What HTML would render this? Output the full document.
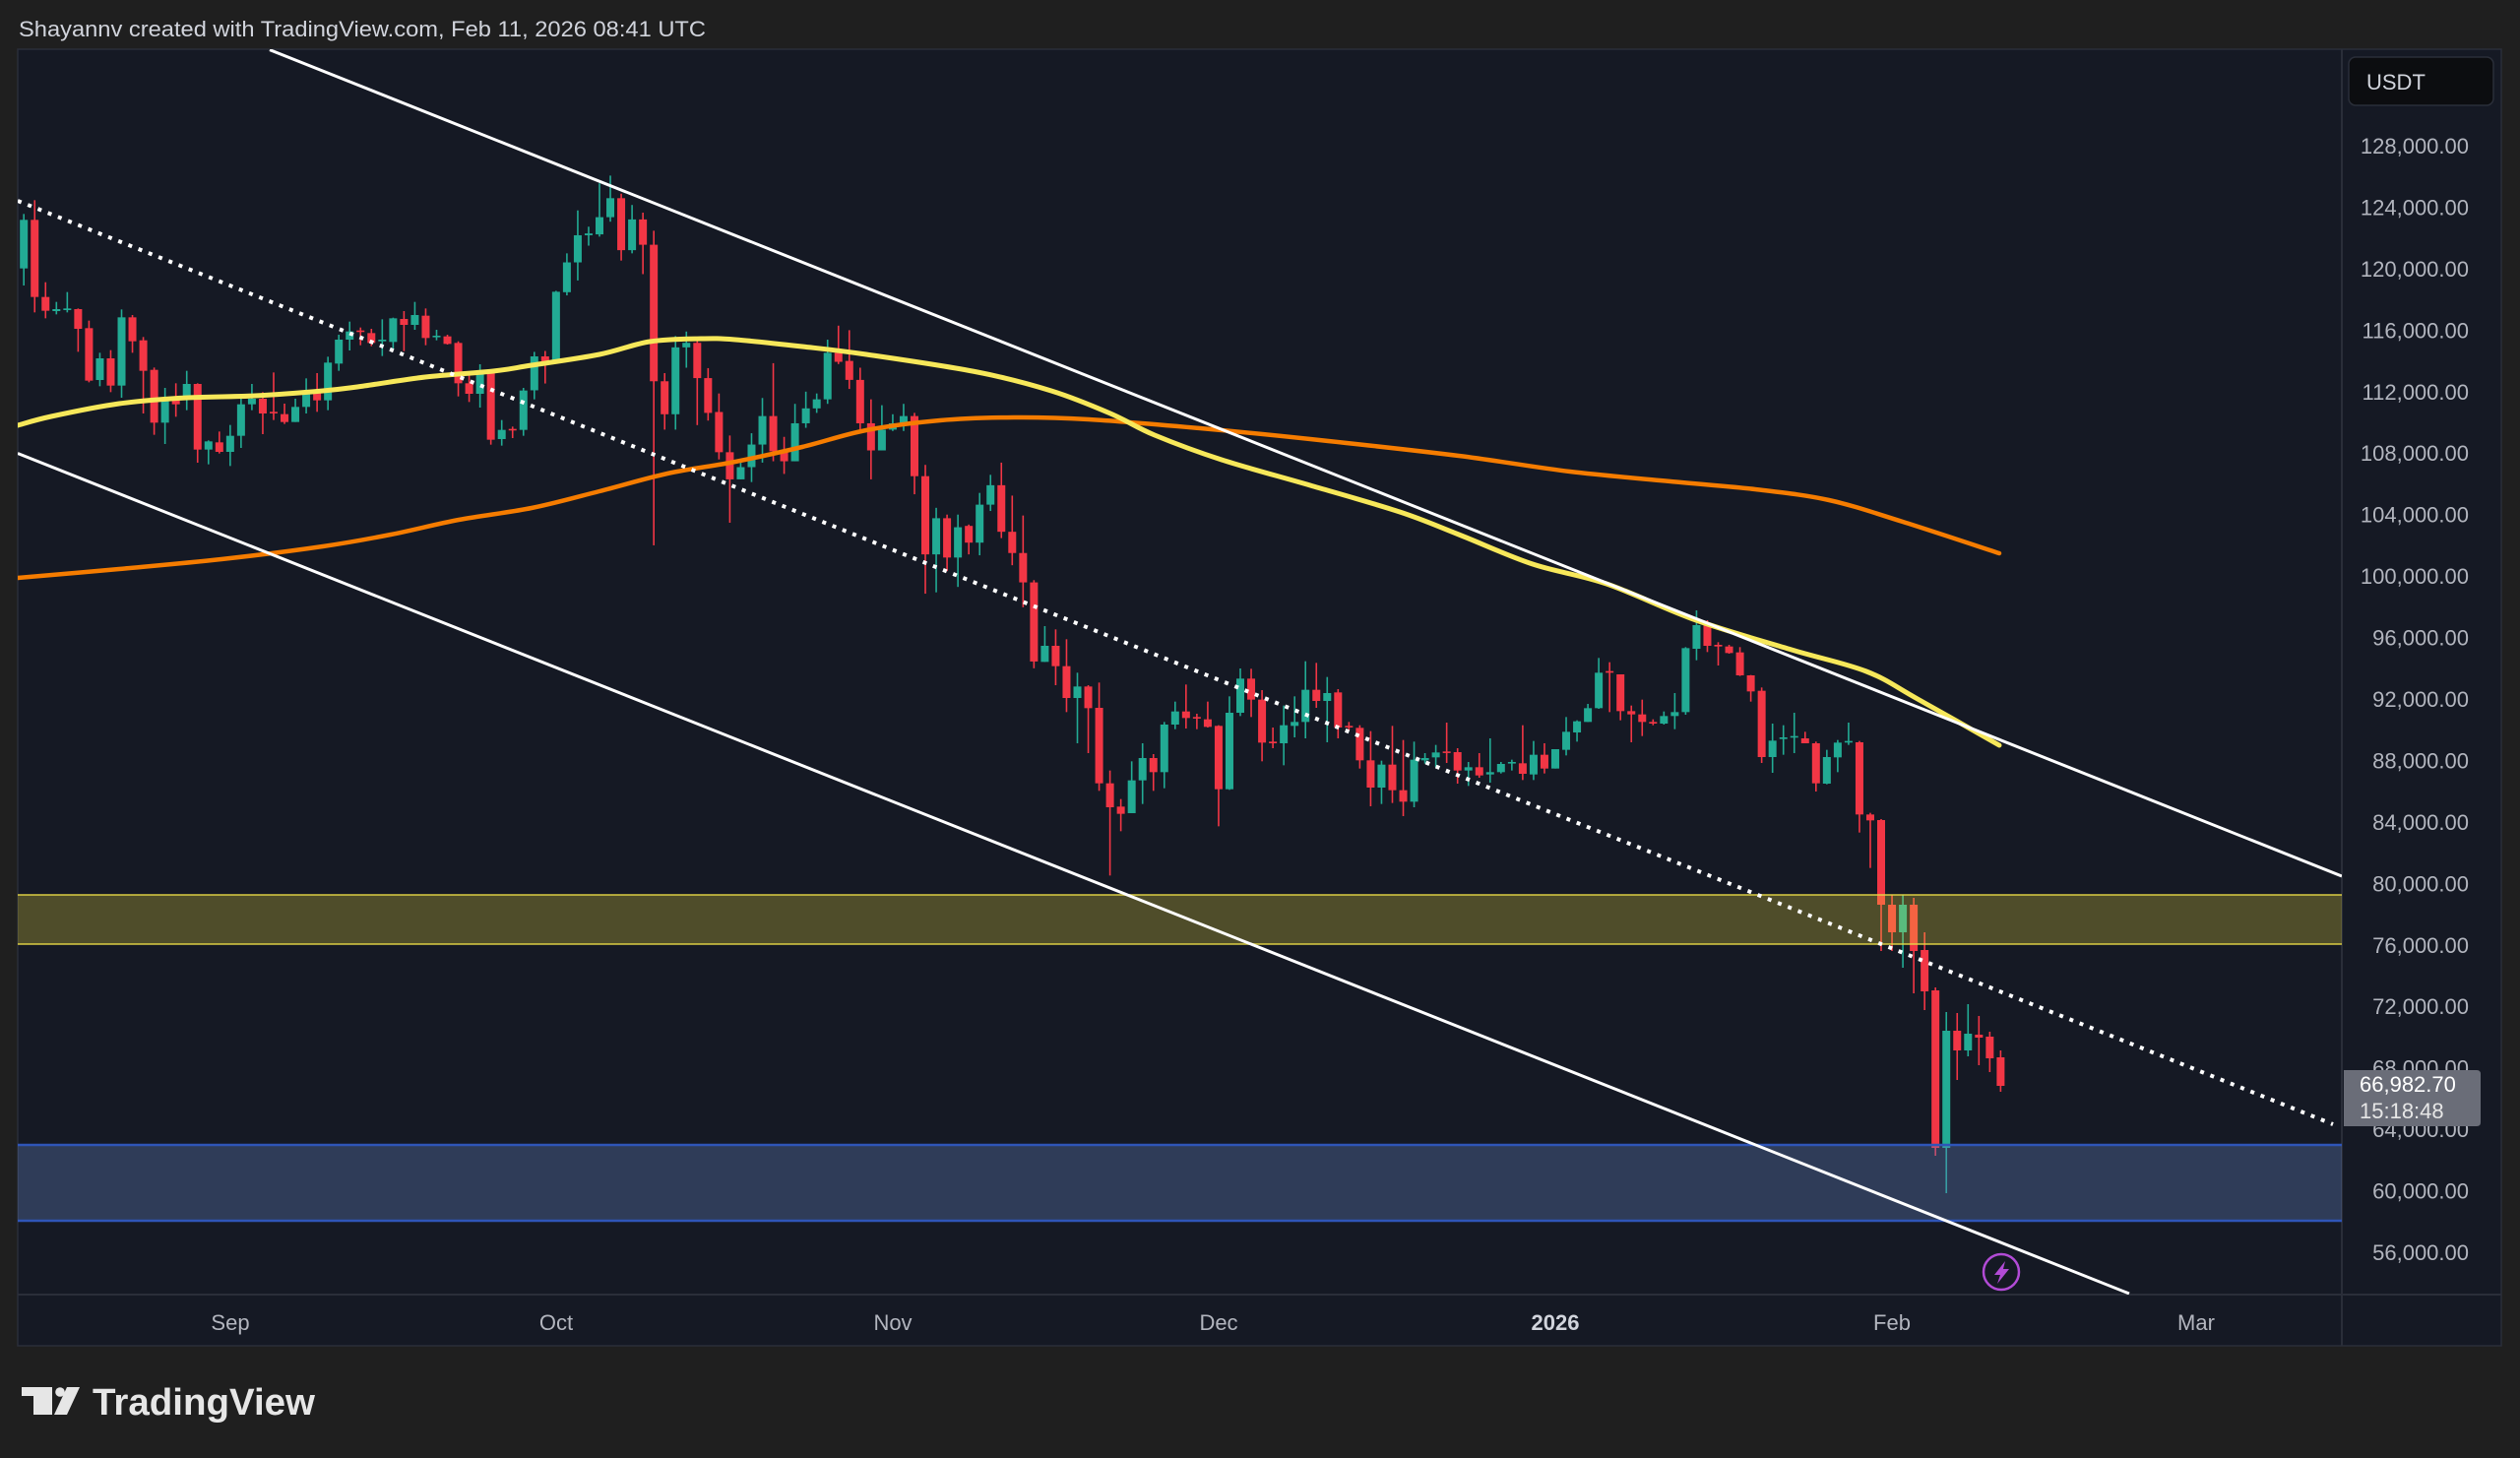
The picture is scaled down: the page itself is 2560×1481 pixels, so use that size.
<!DOCTYPE html>
<html><head><meta charset="utf-8">
<style>
html,body{margin:0;padding:0;background:#1f1f1f;width:2560px;height:1481px;overflow:hidden}
svg{display:block}
text{font-family:"Liberation Sans",Arial,sans-serif}
</style></head><body>
<svg id="s" xmlns="http://www.w3.org/2000/svg" width="2560" height="1481" viewBox="0 0 2560 1481">
<rect width="2560" height="1481" fill="#1f1f1f"/>
<text x="19" y="37" font-size="22.5" fill="#d1d4dc" textLength="698" lengthAdjust="spacingAndGlyphs">Shayannv created with TradingView.com, Feb 11, 2026 08:41 UTC</text>
<rect x="18" y="50" width="2523" height="1317" fill="#151924" stroke="#2a2e39" stroke-width="1.5"/>
<line x1="2379" y1="50" x2="2379" y2="1367" stroke="#2a2e39" stroke-width="2"/>
<line x1="18" y1="1315" x2="2541" y2="1315" stroke="#2a2e39" stroke-width="2"/>
<defs><clipPath id="cp"><rect x="18" y="50" width="2361" height="1265"/></clipPath></defs>
<g clip-path="url(#cp)">
  <g id="candles"></g>
  <path id="ma200" fill="none" stroke="#f57c00" stroke-width="4.5" stroke-linejoin="round" stroke-linecap="round" d=""/>
  <path id="ma50" fill="none" stroke="#f7e85a" stroke-width="5" stroke-linejoin="round" stroke-linecap="round" d=""/>
  <!-- zones -->
  <rect x="18" y="909" width="2361" height="50" fill="rgba(255,235,59,0.25)"/>
  <line x1="18" y1="909" x2="2379" y2="909" stroke="rgba(230,215,70,0.7)" stroke-width="2"/>
  <line x1="18" y1="959" x2="2379" y2="959" stroke="rgba(230,215,70,0.7)" stroke-width="2"/>
  <rect x="18" y="1163" width="2361" height="77" fill="rgba(100,130,190,0.34)"/>
  <line x1="18" y1="1163" x2="2379" y2="1163" stroke="#2f55b8" stroke-width="2.5"/>
  <line x1="18" y1="1240" x2="2379" y2="1240" stroke="#2f55b8" stroke-width="2.5"/>
  <!-- dotted trend -->
  <line x1="18" y1="204" x2="2370" y2="1142" stroke="#ffffff" stroke-width="4" stroke-dasharray="4 7"/>
  <!-- channel -->
  <line x1="274" y1="50.6" x2="2379" y2="890" stroke="#ffffff" stroke-width="3"/>
  <line x1="18" y1="460.5" x2="2163" y2="1314" stroke="#ffffff" stroke-width="3"/>
  <!-- icon -->
  <circle cx="2033" cy="1292" r="18" fill="none" stroke="#b24bd6" stroke-width="2.5"/>
  <path d="M2037,1281 L2026,1295 L2032,1295 L2029,1304 L2041,1289 L2035,1289 Z" fill="#b24bd6"/>
</g>
<g id="plabels" font-size="22" fill="#b2b5be" text-anchor="end"></g>
<!-- current price label -->
<path d="M2381,1087 L2516,1087 Q2520,1087 2520,1091 L2520,1140 Q2520,1144 2516,1144 L2381,1144 Z" fill="#6a6d78"/>
<text x="2397" y="1109" font-size="22" fill="#ffffff">66,982.70</text>
<text x="2397" y="1136" font-size="22" fill="#e6e6e6">15:18:48</text>
<!-- USDT box -->
<rect x="2386" y="58" width="147" height="49" rx="7" fill="#0c0d10" stroke="#2a2e39" stroke-width="1.5"/>
<text x="2404" y="91" font-size="22" fill="#d1d4dc">USDT</text>
<!-- time labels -->
<g font-size="22" fill="#b2b5be" text-anchor="middle">
  <text x="234" y="1351">Sep</text>
  <text x="565" y="1351">Oct</text>
  <text x="907" y="1351">Nov</text>
  <text x="1238" y="1351">Dec</text>
  <text x="1580" y="1351" font-weight="bold" fill="#d1d4dc">2026</text>
  <text x="1922" y="1351">Feb</text>
  <text x="2231" y="1351">Mar</text>
</g>
<!-- logo -->
<g fill="#e6e6e6">
  <rect x="22" y="1409" width="31" height="9"/>
  <rect x="34" y="1409" width="19" height="28"/>
  <circle cx="61" cy="1414" r="4.8"/>
  <path d="M68,1409 L81,1409 L68,1437 L55,1437 Z"/>
  <text x="94" y="1437" font-size="38" font-weight="bold" textLength="226" lengthAdjust="spacingAndGlyphs">TradingView</text>
</g>
</svg>
<script>
(function(){
var NS="http://www.w3.org/2000/svg";
var G="#22ab94",R="#f23645";
var segs=[
{s:0,f:function(z){return 160+z/3},d:[
['g',190,338,172,390],['r',190,425,130,472],['r',425,467,380,490],['g',462,468,440,478],['g',460,465,410,472],
['r',462,522,460,592],['r',520,680,497,685],['g',612,678,595,697],['r',612,695,587,715],['g',487,695,463,732],
['r',487,560,480,595],['r',557,650,547,780],['r',647,808,640,845],['g',733,808,702,873],['r',733,752,688,790],
['g',690,728,650,770],['r',690,890,688,930],['g',865,890,862,935],['r',868,897,835,902],['g',848,897,815,940],
['g',752,848,728,885],['g',735,752,690,770],['r',735,780,715,843],['r',775,778,655,800],['r',782,806,750,812],
['g',760,806,735,806],['g',715,760,673,780],['r',715,740,657,775],['g',625,740,607,770],['g',555,628,540,650],
['g',530,555,500,588],['r',527,530,518,572],['r',535,565,522,575],['g',555,560,493,605],['g',490,562,488,585],
['r',492,510,468,590],['g',480,510,440,525],['r',482,550,460,572],['g',543,547,525,557],['r',545,568,540,570],
['r',565,688,560,728],['r',688,720,662,745],['g',655,720,630,762],['r',655,860,645,875],['g',830,858,800,878],
['r',827,830,820,855],['g',710,830,702,848]]},
{s:47,f:function(z){return 160+z/2.178},d:[
['g',440,515,430,535],['r',440,455,428,500],['g',297,452,295,455],['g',232,298,212,305],['g',172,232,117,272],
['g',168,172,153,195],['g',132,170,57,175],['g',90,132,40,142],['r',90,205,80,228],['g',137,205,105,212],
['r',137,193,122,258],['r',193,495,162,858],['r',495,568,477,602],['g',420,568,395,602],['g',410,420,385,465],
['r',410,488,403,592],['r',488,565,466,582],['r',563,652,522,668],['r',652,712,615,808],['g',685,712,675,712],
['g',635,685,610,718],['g',572,635,532,675],['r',572,650,455,672],['r',650,672,618,700],['g',588,672,545,672],
['g',555,588,518,598],['g',535,555,522,565],['g',432,535,403,545],['r',432,452,372,457],['r',450,492,382,512],
['r',492,588,465,605],['r',588,648,535,712],['g',602,648,548,648],['g',588,602,568,605],['g',572,588,545,605],
['r',572,705,565,745],['r',705,878,680,965],['g',798,878,775,962],['r',798,885,790,915],['g',818,885,790,950],
['r',815,852,812,878],['g',768,852,742,880],['g',725,768,702,782],['r',725,828,675,842],['r',828,875,748,902],
['r',875,940,792,995],['r',940,1115,935,1130]]},
{s:94,f:function(z){return 620+z/3},d:[
['g',108,157,48,157],['r',108,170,58,228],['r',170,267,88,310],['g',232,267,190,405],['r',232,298,228,435],
['r',297,527,220,550],['r',527,600,488,808],['r',598,620,575,673],['g',518,618,460,618],['g',450,518,405,590],
['r',450,493,438,550],['g',348,493,340,542],['g',308,348,278,362],['r',308,328,226,360],['r',325,328,315,362],
['r',332,355,278,357],['r',352,545,350,658],['g',312,545,262,547],['g',208,312,177,322],['r',208,272,178,325],
['r',272,403,243,460],['r',400,405,357,420],['g',350,405,290,472],['g',340,352,262,387],['g',242,340,155,390],
['r',242,276,160,297],['g',252,276,203,402],['r',250,357,240,390],['r',352,356,340,365],['r',358,457,350,482],
['r',457,540,368,597],['g',470,540,458,590],['r',470,548,352,587],['r',548,583,395,627],['g',455,583,400,600],
['g',450,457,435,467],['g',433,448,410,478],['r',430,434,342,465],['r',432,488,420,528],['g',478,488,462,535],
['r',478,503,435,510],['g',493,500,390,525],['g',468,493,462,497],['g',462,466,455,488],['r',466,498,350,517],
['g',440,500,398,517],['r',440,482,405,497],['g',423,482,423,482],['g',370,425,325,442]]},
{s:143,f:function(z){return 600+z/3},d:[
['g',398,432,395,460],['g',358,400,345,400],['g',250,358,205,360],['r',245,250,218,370],['r',255,367,255,395],
['r',367,377,350,462],['r',377,400,332,443],['r',400,405,392,410],['g',382,405,368,408],['g',370,382,312,422],
['g',175,370,172,378],['g',105,177,60,212],['r',105,168,90,187],['r',165,170,157,228],['r',170,190,165,192],
['r',188,258,172,260],['r',258,307,257,338],['r',305,507,295,525],['g',457,507,405,555],['g',447,452,410,500],
['g',443,447,372,495],['r',450,465,430,465],['r',465,587,460,612],['g',507,588,485,590],['g',463,508,455,553],
['g',458,462,402,470],['r',462,682,458,737],['r',682,700,677,845]]},
{s:171,f:function(z){return z},d:[
['r',833,919,832,966],['r',919,947,909,966],['g',919,947,909,983],['r',919,966,912,1009],['r',965,1007,947,1026],
['r',1006,1166,1003,1174],['g',1047,1166,1028,1212],['r',1047,1067,1029,1097],['g',1050,1067,1020,1073],
['r',1051,1054,1032,1082],['r',1053,1075,1048,1089],['r',1074,1103,1067,1109]]}
];
var g=document.getElementById('candles');
function rect(x,y,w,h,c){var r=document.createElementNS(NS,'rect');r.setAttribute('x',x.toFixed(2));r.setAttribute('y',y.toFixed(2));r.setAttribute('width',w);r.setAttribute('height',h.toFixed(2));r.setAttribute('fill',c);g.appendChild(r);}
segs.forEach(function(sg){
  sg.d.forEach(function(c,k){
    var i=sg.s+k, x=24.2+11.034*i, col=c[0]=='g'?G:R;
    var bt=sg.f(c[1]), bb=sg.f(c[2]), wt=sg.f(c[3]), wb=sg.f(c[4]);
    rect(x-0.8,wt,1.6,Math.max(wb-wt,1),col);
    rect(x-4,bt,8,Math.max(bb-bt,1.6),col);
  });
});
function smooth(pts){
  var p=pts.trim().split(/\s+/).map(function(s){var a=s.split(',');return [+a[0],+a[1]];});
  var d='M'+p[0][0]+','+p[0][1];
  for(var i=0;i<p.length-1;i++){
    var p0=p[i-1]||p[i],p1=p[i],p2=p[i+1],p3=p[i+2]||p2;
    var c1x=p1[0]+(p2[0]-p0[0])/6,c1y=p1[1]+(p2[1]-p0[1])/6;
    var c2x=p2[0]-(p3[0]-p1[0])/6,c2y=p2[1]-(p3[1]-p1[1])/6;
    d+=' C'+c1x.toFixed(1)+','+c1y.toFixed(1)+' '+c2x.toFixed(1)+','+c2y.toFixed(1)+' '+p2[0]+','+p2[1];
  }
  return d;
}
document.getElementById('ma200').setAttribute('d',smooth("18,587 121,578 225,568 328,555 397,543 466,528 540,516 609,499 678,481 747,469 815,454 880,437 955,427 1030,424 1106,426 1219,435 1331,446 1482,463 1595,479 1708,490 1783,497 1858,508 1933,530 2031,562"));
document.getElementById('ma50').setAttribute('d',smooth("18,432 52,423 121,410 190,404 259,402 328,397 363,393 432,383 501,377 540,371 609,360 660,347 712,344 747,345 815,352 880,360 993,378 1068,397 1128,420 1173,442 1241,467 1331,493 1422,520 1482,543 1557,573 1632,593 1723,630 1820,660 1896,682 1948,710 2031,757"));
var pl=document.getElementById('plabels');
for(var p=128000;p>=56000;p-=4000){
  var y=148+(128000-p)*0.015611;
  var t=document.createElementNS(NS,'text');
  t.setAttribute('x','2508');t.setAttribute('y',(y+8).toFixed(1));
  var k=String(p/1000);
  t.textContent=(k.length>3?k.slice(0,k.length-3)+','+k.slice(-3):k)+',000.00';
  pl.appendChild(t);
}
})();
</script>
</body></html>
